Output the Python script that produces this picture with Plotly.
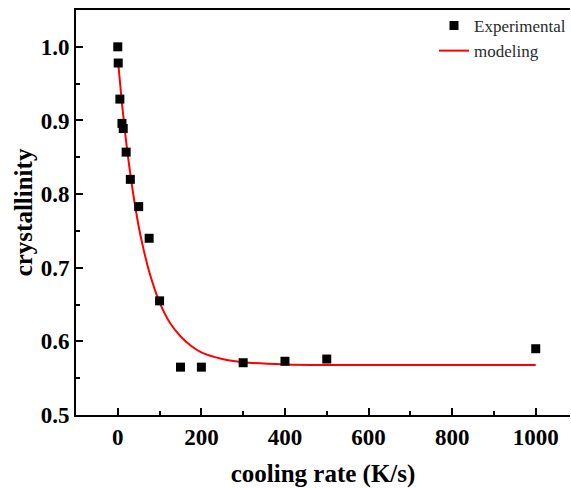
import plotly.graph_objects as go

# Measured crystallinity at each cooling rate
cooling_rate = [0, 1, 5, 10, 13, 20, 30, 50, 75, 100, 150, 200, 300, 400, 500, 1000]
crystallinity = [1.000, 0.978, 0.929, 0.896, 0.889, 0.857, 0.820, 0.783, 0.740,
                 0.655, 0.565, 0.565, 0.571, 0.573, 0.576, 0.590]

# Modeled crystallinity curve
model_rate = [1, 10, 20, 30, 40, 50, 60, 75, 100, 125, 150, 175, 200, 250, 300,
              400, 500, 700, 1000]
model_value = [0.978, 0.923, 0.871, 0.827, 0.789, 0.756, 0.729, 0.695, 0.653,
               0.625, 0.607, 0.594, 0.585, 0.576, 0.5716, 0.5687, 0.568, 0.568, 0.568]

x_ticks = [0, 200, 400, 600, 800, 1000]
y_ticks = [0.5, 0.6, 0.7, 0.8, 0.9, 1.0]
y_tick_text = ["0.5", "0.6", "0.7", "0.8", "0.9", "1.0"]

serif = "Liberation Serif, Times New Roman, serif"

fig = go.Figure()
fig.add_trace(go.Scatter(
    x=model_rate, y=model_value, mode="lines", name="modeling",
    line=dict(color="#ff0000", width=2, shape="spline", smoothing=0.6),
))
fig.add_trace(go.Scatter(
    x=cooling_rate, y=crystallinity, mode="markers", name="Experimental",
    marker=dict(symbol="square", size=9, color="black"),
))

axis_common = dict(
    showgrid=False, zeroline=False, showline=True, linecolor="black", linewidth=2,
    ticks="inside", ticklen=7, tickwidth=2, tickcolor="black",
    tickfont=dict(family=serif, size=23, color="black", weight="bold"),
)

fig.update_layout(
    width=571, height=488,
    margin=dict(l=76, r=0, t=10, b=73),
    paper_bgcolor="white", plot_bgcolor="white",
    xaxis=dict(
        range=[-100, 1082], tickvals=x_ticks, mirror=True,
        minor=dict(dtick=100, tick0=0, ticks="inside", ticklen=4, tickwidth=2, tickcolor="black"),
        title=dict(text="cooling rate (K/s)", standoff=17,
                   font=dict(family=serif, size=25, color="black", weight="bold")),
        **axis_common,
    ),
    yaxis=dict(
        range=[0.5, 1.05], tickvals=y_ticks, ticktext=y_tick_text, mirror=False,
        minor=dict(dtick=0.05, tick0=0.5, ticks="inside", ticklen=4, tickwidth=2, tickcolor="black"),
        title=dict(text="crystallinity", standoff=1,
                   font=dict(family=serif, size=25, color="black", weight="bold")),
        **axis_common,
    ),
    legend=dict(
        x=0.725, y=1.005, xanchor="left", yanchor="top",
        traceorder="reversed", bgcolor="rgba(0,0,0,0)",
        font=dict(family=serif, size=17, color="#2a2a2a"),
        itemwidth=30, tracegroupgap=0,
    ),
    showlegend=True,
)

fig.write_html("out.html")
